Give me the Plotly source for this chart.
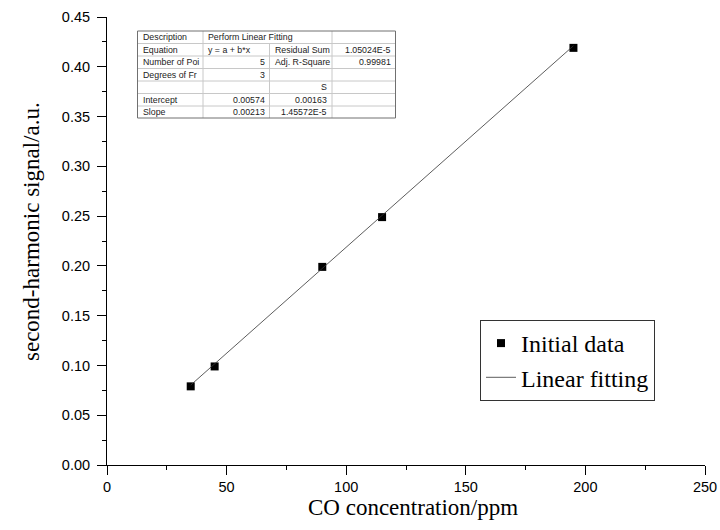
import plotly.graph_objects as go

conc = [35, 45, 90, 115, 195]
signal = [0.079, 0.099, 0.199, 0.249, 0.419]
intercept = 0.00574
slope = 0.00213
fit_x = [35, 195]
fit_y = [intercept + slope * x for x in fit_x]

table_rows = [
    ["Description", "Perform Linear Fitting", "", ""],
    ["Equation", "y = a + b*x", "Residual Sum", "1.05024E-5"],
    ["Number of Poi", "5", "Adj. R-Square", "0.99981"],
    ["Degrees of Fr", "3", "", ""],
    ["", "", "S", ""],
    ["Intercept", "0.00574", "0.00163", ""],
    ["Slope", "0.00213", "1.45572E-5", ""],
]
# alignment per cell: 'l' or 'r'
table_align = [
    ["l", "l", "l", "l"],
    ["l", "l", "l", "r"],
    ["l", "r", "l", "r"],
    ["l", "r", "l", "r"],
    ["l", "r", "r", "r"],
    ["l", "r", "r", "r"],
    ["l", "r", "r", "r"],
]

W, H = 720, 530
L, R, T, B = 107, 15, 17, 65
pw, ph = W - L - R, H - T - B


def px(x):
    return (x - L) / pw


def py(y):
    return (H - B - y) / ph


fig = go.Figure()
fig.add_trace(go.Scatter(x=conc, y=signal, mode="markers", name="Initial data",
                         marker=dict(symbol="square", size=8, color="black")))
fig.add_trace(go.Scatter(x=fit_x, y=fit_y, mode="lines", name="Linear fitting",
                         line=dict(color="#333333", width=0.8)))

shapes = []
annotations = []
col_edges = [137.5, 203, 269.5, 332, 395.5]
row_edges = [31, 43.5, 56, 68.5, 81, 93.5, 106, 118]
for k, xe in enumerate(col_edges[1:-1]):
    ytop = row_edges[1] if k == 1 else row_edges[0]
    shapes.append(dict(type="line", xref="paper", yref="paper",
                       x0=px(xe), x1=px(xe), y0=py(ytop), y1=py(row_edges[-1]),
                       line=dict(color="#c8c8c8", width=1)))
for ye in row_edges[1:-1]:
    shapes.append(dict(type="line", xref="paper", yref="paper",
                       x0=px(col_edges[0]), x1=px(col_edges[-1]), y0=py(ye), y1=py(ye),
                       line=dict(color="#c8c8c8", width=1)))
shapes.append(dict(type="rect", xref="paper", yref="paper",
                   x0=px(col_edges[0]), x1=px(col_edges[-1]),
                   y0=py(row_edges[0]), y1=py(row_edges[-1]),
                   line=dict(color="#707070", width=1)))

for i, row in enumerate(table_rows):
    yc = (row_edges[i] + row_edges[i + 1]) / 2
    for j, txt in enumerate(row):
        if not txt:
            continue
        if table_align[i][j] == "l":
            xa, anchor = col_edges[j] + 3, "left"
        else:
            xa, anchor = col_edges[j + 1] - 3, "right"
        annotations.append(dict(xref="paper", yref="paper", x=px(xa), y=py(yc),
                                text=txt, showarrow=False, xanchor=anchor, yanchor="middle",
                                font=dict(family="Arial", size=8.8, color="#222222")))

title_font = dict(family="Liberation Serif", size=23, color="black")
annotations.append(dict(xref="paper", yref="paper", x=px(31), y=py(232),
                        text="second-harmonic signal/a.u.", textangle=-90, showarrow=False,
                        xanchor="center", yanchor="middle", font=title_font))
annotations.append(dict(xref="paper", yref="paper", x=px(413), y=py(507),
                        text="CO concentration/ppm", showarrow=False,
                        xanchor="center", yanchor="middle", font=title_font))

fig.update_layout(
    width=W, height=H,
    margin=dict(l=L, r=R, t=T, b=B, autoexpand=False),
    paper_bgcolor="white", plot_bgcolor="white",
    showlegend=True,
    legend=dict(x=px(480), y=py(320), xanchor="left", yanchor="top",
                bordercolor="#333333", borderwidth=1, bgcolor="white",
                font=dict(family="Liberation Serif", size=24, color="black"),
                itemwidth=30, tracegroupgap=0, entrywidth=145, entrywidthmode="pixels"),
    shapes=shapes,
    annotations=annotations,
    xaxis=dict(range=[0, 250], tickvals=[0, 50, 100, 150, 200, 250],
               ticks="outside", ticklen=9, tickcolor="black", tickwidth=1,
               minor=dict(tickvals=[25, 75, 125, 175, 225], ticks="outside", ticklen=4,
                          tickcolor="black", tickwidth=1),
               showline=True, linecolor="black", linewidth=1, showgrid=False, zeroline=False,
               automargin=False,
               tickfont=dict(family="Arial", size=14.5, color="black")),
    yaxis=dict(range=[0, 0.45], tickvals=[0, 0.05, 0.1, 0.15, 0.2, 0.25, 0.3, 0.35, 0.4, 0.45],
               tickformat=".2f", ticklabelstandoff=4,
               ticks="outside", ticklen=9, tickcolor="black", tickwidth=1,
               minor=dict(tickvals=[0.025, 0.075, 0.125, 0.175, 0.225, 0.275, 0.325, 0.375, 0.425],
                          ticks="outside", ticklen=4, tickcolor="black", tickwidth=1),
               showline=True, linecolor="black", linewidth=1, showgrid=False, zeroline=False,
               automargin=False,
               tickfont=dict(family="Arial", size=14.5, color="black")),
)

fig.write_html("out.html", config={"displayModeBar": False},
               post_script="document.body.style.margin='0';document.body.style.padding='0';")
